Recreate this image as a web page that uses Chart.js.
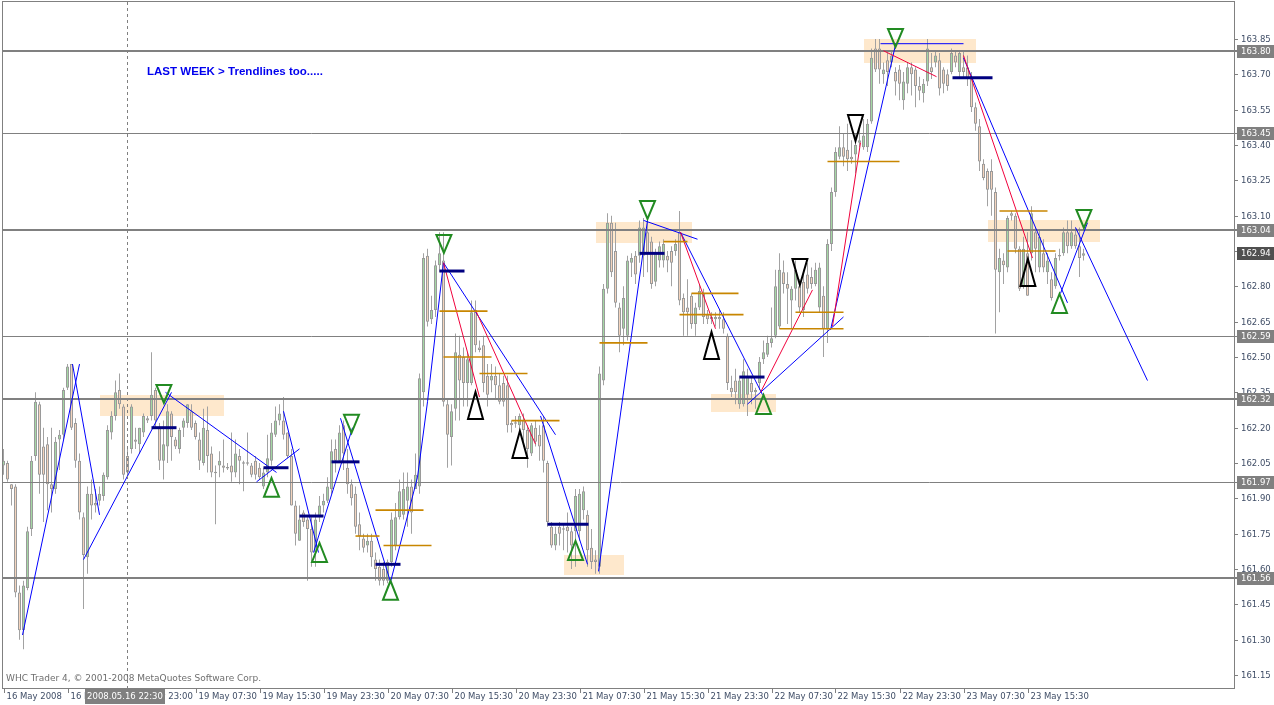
<!DOCTYPE html>
<html><head><meta charset="utf-8">
<script src="https://cdn.jsdelivr.net/npm/chart.js@4.4.1/dist/chart.umd.min.js"></script>
<style>html,body{margin:0;padding:0;background:#fff;overflow:hidden}canvas{display:block}</style>
</head><body>
<canvas id="c" width="1274" height="705"></canvas>
<script>
// ---- DATA (30-minute bars, index 0 = 16 May 2008 07:00) ----
const openP = [
162.04,162.05,161.96,161.95,161.50,161.34,161.52,161.77,162.08,162.30,
162.12,162.13,161.96,161.94,162.15,162.17,162.37,162.47,162.22,162.06,
161.82,161.65,161.92,161.88,161.89,161.91,161.99,162.18,162.25,162.36,
162.29,162.08,162.11,162.15,162.13,162.18,162.24,162.25,162.36,162.20,
162.06,162.12,162.26,162.15,162.11,162.20,162.22,162.27,162.22,162.15,
162.05,162.19,162.09,162.01,162.04,162.04,162.03,162.04,162.01,162.08,
162.05,162.05,162.04,162.06,162.03,161.95,162.01,162.06,162.17,162.23,
162.23,162.18,162.08,161.87,161.72,161.84,161.81,161.77,161.67,161.82,
161.87,161.89,161.94,162.11,162.06,162.21,162.03,161.96,161.92,161.79,
161.73,161.70,161.72,161.64,161.61,161.60,161.55,161.63,161.70,161.82,
161.83,161.89,161.95,161.94,161.95,162.35,162.93,162.66,162.70,162.89,
162.91,162.30,162.16,162.28,162.51,162.50,162.39,162.39,162.70,162.54,
162.55,162.42,162.40,162.42,162.38,162.39,162.38,162.22,162.22,162.21,
162.23,162.19,162.09,162.20,162.17,162.21,162.05,161.78,161.70,161.78,
161.77,161.78,161.76,161.76,161.76,161.85,161.83,161.69,161.64,161.61,
162.40,162.79,163.07,162.95,162.71,162.62,162.59,162.90,162.93,162.93,
162.93,163.03,162.99,162.82,162.91,162.91,162.93,162.95,162.95,163.03,
162.75,162.71,162.76,162.64,162.71,162.77,162.68,162.67,162.66,162.67,
162.66,162.59,162.37,162.40,162.30,162.30,162.34,162.39,162.35,162.39,
162.49,162.51,162.56,162.59,162.63,162.86,162.81,162.74,162.79,162.80,
162.82,162.85,162.84,162.81,162.71,162.76,162.62,162.98,163.20,163.35,
163.39,163.38,163.35,163.36,163.41,163.39,163.39,163.50,163.81,163.81,
163.70,163.76,163.75,163.71,163.72,163.59,163.66,163.73,163.72,163.65,
163.62,163.67,163.73,163.75,163.76,163.72,163.70,163.71,163.78,163.71,
163.73,163.73,163.69,163.56,163.48,163.32,163.29,163.29,163.20,162.86,
162.91,162.88,163.11,163.10,162.96,162.80,162.94,162.94,163.03,162.88,
162.94,162.86,162.83,162.80,162.93,162.94,163.03,162.97,163.02,162.97,
162.93];
const highP = [
162.11,162.06,161.96,161.96,161.53,161.55,161.78,162.08,162.35,162.31,
162.20,162.16,162.20,162.16,162.19,162.37,162.47,162.47,162.24,162.09,
161.84,161.95,161.98,161.94,161.95,162.01,162.21,162.27,162.40,162.43,
162.30,162.11,162.30,162.20,162.20,162.26,162.25,162.52,162.37,162.22,
162.23,162.30,162.27,162.16,162.20,162.24,162.30,162.30,162.23,162.18,
162.28,162.29,162.12,162.04,162.10,162.15,162.05,162.18,162.15,162.11,
162.06,162.18,162.05,162.08,162.05,162.03,162.17,162.22,162.29,162.30,
162.33,162.18,162.11,161.89,161.87,161.85,161.82,161.82,161.84,161.91,
161.92,161.99,162.15,162.15,162.21,162.23,162.11,161.98,161.95,161.84,
161.75,161.75,161.75,161.67,161.64,161.63,161.64,161.84,161.88,161.98,
162.01,162.01,161.98,162.09,162.43,162.94,162.96,162.76,162.91,163.03,
163.03,162.32,162.30,162.60,162.59,162.54,162.52,162.74,162.74,162.57,
162.59,162.47,162.47,162.46,162.43,162.42,162.42,162.23,162.25,162.26,
162.26,162.21,162.22,162.23,162.21,162.25,162.06,161.80,161.78,161.80,
161.79,161.84,161.78,161.94,161.94,161.95,161.85,161.77,161.68,162.46,
162.81,163.11,163.10,163.07,162.73,162.80,162.93,162.94,162.95,163.08,
163.09,163.08,163.01,162.96,162.99,163.00,162.95,162.97,163.00,163.12,
162.77,162.83,162.77,162.73,162.81,162.79,162.70,162.69,162.69,162.70,
162.69,162.60,162.42,162.45,162.42,162.49,162.45,162.42,162.37,162.50,
162.57,162.59,162.71,162.87,162.94,162.91,162.86,162.80,162.91,162.83,
162.87,162.90,162.88,162.90,162.90,162.80,163.00,163.22,163.39,163.48,
163.45,163.49,163.42,163.45,163.48,163.51,163.51,163.81,163.85,163.85,
163.75,163.79,163.80,163.73,163.74,163.71,163.75,163.75,163.73,163.69,
163.68,163.85,163.79,163.80,163.79,163.73,163.72,163.81,163.80,163.80,
163.80,163.78,163.71,163.58,163.51,163.34,163.30,163.34,163.22,162.96,
162.94,163.10,163.12,163.11,162.97,163.01,163.03,163.14,163.05,163.04,
163.00,162.94,162.86,162.94,162.96,163.05,163.08,163.08,163.05,163.05,
162.96];
const lowP = [
162.00,161.97,161.87,161.48,161.30,161.26,161.51,161.74,162.06,161.92,
161.80,161.85,161.84,161.92,162.02,162.15,162.36,162.19,162.03,161.81,
161.43,161.58,161.81,161.84,161.87,161.89,161.98,162.15,162.23,162.28,
161.98,161.99,162.09,162.11,162.09,162.16,162.22,162.23,162.20,162.02,
161.98,162.05,162.06,162.11,162.09,162.16,162.20,162.19,162.15,162.02,
162.04,162.01,161.99,161.79,161.99,162.01,162.02,161.97,161.99,161.96,
161.93,162.04,161.99,161.98,161.98,161.94,161.99,162.04,162.16,162.21,
162.15,162.07,161.87,161.70,161.72,161.78,161.55,161.61,161.61,161.80,
161.84,161.88,161.92,162.01,162.05,162.02,161.92,161.87,161.75,161.68,
161.67,161.67,161.61,161.55,161.53,161.53,161.54,161.61,161.68,161.81,
161.81,161.78,161.75,161.94,161.92,162.29,162.63,162.64,162.67,162.86,
162.29,162.03,162.04,162.23,162.23,162.29,162.29,162.38,162.52,162.52,
162.35,162.29,162.35,162.32,162.30,162.29,162.18,162.18,162.20,162.18,
162.12,162.03,162.08,162.12,162.06,162.01,161.78,161.69,161.68,161.70,
161.68,161.67,161.60,161.61,161.72,161.81,161.61,161.60,161.58,161.58,
162.38,162.77,162.84,162.71,162.52,162.55,162.57,162.84,162.81,162.90,
162.84,162.86,162.79,162.80,162.88,162.88,162.86,162.80,162.93,162.72,
162.59,162.59,162.62,162.59,162.70,162.64,162.64,162.64,162.63,162.62,
162.60,162.36,162.33,162.30,162.28,162.29,162.25,162.30,162.28,162.36,
162.47,162.50,162.54,162.58,162.62,162.77,162.64,162.62,162.74,162.69,
162.67,162.77,162.79,162.80,162.69,162.50,162.56,162.95,163.18,163.34,
163.31,163.29,163.32,163.28,163.39,163.38,163.37,163.49,163.71,163.66,
163.66,163.65,163.73,163.61,163.59,163.55,163.62,163.61,163.56,163.59,
163.58,163.65,163.68,163.73,163.61,163.62,163.63,163.70,163.73,163.69,
163.69,163.65,163.54,163.46,163.29,163.25,163.14,163.10,162.60,162.69,
162.81,162.86,163.08,162.94,162.78,162.79,162.76,162.91,162.86,162.86,
162.86,162.81,162.74,162.79,162.91,162.93,162.94,162.96,162.96,162.84,
162.91];
const closeP = [
162.06,161.98,161.94,161.50,161.34,161.53,161.76,162.06,162.31,162.00,
162.00,161.96,161.94,162.14,162.17,162.36,162.46,162.20,162.06,161.84,
161.66,161.92,161.87,161.87,161.92,162.00,162.19,162.25,162.35,162.30,
162.00,162.01,162.29,162.14,162.20,162.25,162.23,162.34,162.23,162.06,
162.13,162.27,162.16,162.12,162.19,162.23,162.30,162.20,162.16,162.06,
162.20,162.08,162.01,162.01,162.06,162.03,162.03,162.01,162.09,162.06,
162.05,162.05,162.00,162.00,161.99,162.01,162.07,162.18,162.23,162.26,
162.17,162.08,161.87,161.75,161.81,161.80,161.77,161.67,161.81,161.87,
161.89,161.95,162.10,162.06,162.18,162.09,161.96,161.90,161.78,161.74,
161.69,161.72,161.65,161.60,161.55,161.55,161.63,161.81,161.82,161.93,
161.94,161.95,161.84,162.00,162.41,162.92,162.65,162.70,162.89,162.94,
162.31,162.17,162.27,162.52,162.40,162.39,162.49,162.69,162.55,162.53,
162.39,162.34,162.42,162.38,162.31,162.31,162.21,162.21,162.22,162.25,
162.19,162.11,162.21,162.14,162.12,162.06,161.80,161.70,161.75,161.75,
161.77,161.76,161.70,161.91,161.92,161.93,161.68,161.63,161.63,162.43,
162.79,163.07,162.86,162.73,162.59,162.75,162.91,162.92,162.85,163.05,
163.05,162.94,162.81,162.94,162.97,162.98,162.91,162.90,162.98,162.74,
162.69,162.69,162.64,162.71,162.78,162.67,162.66,162.66,162.67,162.66,
162.62,162.39,162.35,162.35,162.40,162.44,162.42,162.35,162.36,162.48,
162.52,162.56,162.58,162.80,162.87,162.81,162.79,162.79,162.87,162.71,
162.70,162.79,162.81,162.87,162.88,162.62,162.98,163.20,163.37,163.39,
163.35,163.34,163.34,163.40,163.42,163.44,163.49,163.77,163.72,163.72,
163.72,163.71,163.78,163.67,163.66,163.67,163.73,163.70,163.65,163.63,
163.66,163.81,163.71,163.78,163.64,163.66,163.65,163.79,163.75,163.79,
163.71,163.68,163.56,163.49,163.33,163.26,163.21,163.21,162.87,162.92,
162.89,163.09,163.10,162.96,162.79,162.96,162.76,163.11,162.96,163.01,
162.88,162.91,162.75,162.92,162.93,163.03,162.97,163.03,162.97,162.92,
162.94];

const xTickBars = [0,16,32,48,64,80,96,112,128,144,160,176,192,208,224,240,256];
const xTickLabels = ['16 May 2008','16 May 15:00','16 May 23:00','19 May 07:30','19 May 15:30','19 May 23:30',
  '20 May 07:30','20 May 15:30','20 May 23:30','21 May 07:30','21 May 15:30','21 May 23:30',
  '22 May 07:30','22 May 15:30','22 May 23:30','23 May 07:30','23 May 15:30'];
const yTickValues = [163.85,163.70,163.55,163.40,163.25,163.10,162.95,162.80,162.65,162.50,162.35,
  162.20,162.05,161.90,161.75,161.60,161.45,161.30,161.15];

const levelValues = [163.80,163.45,163.04,162.59,162.32,161.97,161.56];
const levelThick  = [true,false,true,false,true,false,true];
const currentPrice = 162.94;

// zones: [bar1, bar2, priceLow, priceHigh]
const zones = [[24,55,162.25,162.34],[140,155,161.575,161.66],[148,172,162.985,163.075],
  [177,193,162.265,162.345],[215,243,163.75,163.85],[246,274,162.99,163.08]];
// trend segments: [bar1, price1, bar2, price2]
const blueSegs = [[4.75,161.32,19,162.47],[17.25,162.47,24,161.83],[20,161.64,42,162.35],
  [40.5,162.35,68.25,162.01],[63.25,161.97,74,162.11],[70,162.27,78.75,161.67],
  [77.5,161.67,87.25,162.20],[84.25,162.24,96.75,161.545],[96.75,161.545,103.5,161.99],
  [103.5,161.99,106,162.31],[106,162.31,110,162.90],[110,162.90,138,162.17],
  [134.25,162.25,146,161.62],[148.75,161.59,161,163.08],[160,163.08,173.5,163.00],
  [169.25,163.03,189.75,162.34],[186,162.30,210,162.67],[206.75,162.615,223,163.825],
  [219.25,163.83,240,163.83],[240,163.77,266,162.73],[264.25,162.77,271,163.07],
  [268,163.05,286,162.40]];
const redSegs = [[110,162.90,119,162.33],[118,162.70,133,162.13],[169.25,163.03,178,162.62],
  [189.25,162.35,202.25,162.785],[207.25,162.63,214.25,163.41],[220,163.80,233.25,163.69],
  [240,163.78,257.25,162.92]];
// horizontal marks: [bar1, bar2, price]
const orangeSegs = [[109,121,162.695],[110,122,162.50],[119,131,162.43],[127,139,162.23],
  [93,105,161.85],[88,94,161.74],[95,107,161.70],[149,161,162.56],[165,171,162.99],
  [172,183.75,162.77],[169,185,162.68],[198,210,162.69],[194,210,162.62],[206,224,163.33],
  [249,261,163.12],[251,263,162.95]];
const navySegs = [[37,43.25,162.20],[65,71.25,162.03],[74,80,161.825],[82,89,162.055],
  [93,99.25,161.62],[109,115.25,162.865],[136,146.25,161.79],[159,165.25,162.94],
  [184,190.25,162.415],[237.25,247.25,163.685]];
// arrows: [bar, apex price]
const greenDown = [[40.1,162.305],[110.1,162.942],[87,162.178],[161,163.086],[223,163.816],[270.1,163.048]];
const greenUp   = [[67,161.987],[79,161.711],[96.75,161.55],[143,161.719],[190,162.339],[264,162.768]];
const blackDown = [[199.1,162.806],[213,163.417]];
const blackUp   = [[118,162.352],[129.1,162.186],[177,162.606],[256.1,162.916]];

const cursorBar = 31;
const cursorLabel = '2008.05.16 22:30';
const noteText = 'LAST WEEK > Trendlines too.....';
const copyrightText = 'WHC Trader 4, \u00a9 2001-2008 MetaQuotes Software Corp.';

// ---- STYLE ----
const BULL = '#a4d7a4', BEAR = '#f4d4bd', OUTLINE = '#9a9a9a', WICK = '#a2a2a2';
const BLUE = '#0000ff', RED = '#f0003c', ORANGE = '#c88600', NAVY = '#000080';
const ZONE = '#fee8cc', LEVEL = '#808080', AXIS_TXT = '#3f4d66', FRAME = '#808080';
const AXFONT = '8.5px "DejaVu Sans"';

const N = openP.length;
const wickData = [], bodyData = [], bodyColors = [];
for (let i = 0; i < N; i++) {
  wickData.push({x: i, y: [lowP[i], highP[i]]});
  let lo = Math.min(openP[i], closeP[i]), hi = Math.max(openP[i], closeP[i]);
  if (hi - lo < 0.006) { const m = (hi + lo) / 2; lo = m - 0.003; hi = m + 0.003; }
  bodyData.push({x: i, y: [lo, hi]});
  bodyColors.push(closeP[i] > openP[i] ? BULL : (closeP[i] < openP[i] ? BEAR : OUTLINE));
}

const datasets = [
  {type: 'bar', data: wickData, backgroundColor: WICK, borderWidth: 0, barThickness: 1,
   grouped: false, order: 100, inflateAmount: 0},
  {type: 'bar', data: bodyData, backgroundColor: bodyColors, borderColor: OUTLINE, borderWidth: 1,
   borderSkipped: false, barThickness: 3, grouped: false, order: 99, inflateAmount: 0}
];
function seg(x1, y1, x2, y2, color, width) {
  datasets.push({type: 'line', data: [{x: x1, y: y1}, {x: x2, y: y2}], borderColor: color,
    borderWidth: width, pointRadius: 0, pointHoverRadius: 0, fill: false, tension: 0,
    borderCapStyle: 'butt', order: 1});
}
orangeSegs.forEach(s => seg(s[0], s[2], s[1], s[2], ORANGE, 1.6));
navySegs.forEach(s => seg(s[0], s[2], s[1], s[2], NAVY, 3));
redSegs.forEach(s => seg(s[0], s[1], s[2], s[3], RED, 1));
blueSegs.forEach(s => seg(s[0], s[1], s[2], s[3], BLUE, 1));

function fitFont(ctx, text, weight, family, width) {
  ctx.font = weight + ' 20px ' + family;
  return 20 * width / ctx.measureText(text).width;
}

const mt4 = {
  id: 'mt4',
  beforeDatasetsDraw(chart) {
    const {ctx, scales: {x, y}, chartArea: a} = chart;
    ctx.save();
    ctx.beginPath(); ctx.rect(a.left, a.top, a.right - a.left, a.bottom - a.top); ctx.clip();
    ctx.fillStyle = ZONE;
    zones.forEach(z => {
      const x1 = Math.round(x.getPixelForValue(z[0])), x2 = Math.round(x.getPixelForValue(z[1]));
      const y1 = Math.round(y.getPixelForValue(z[3])), y2 = Math.round(y.getPixelForValue(z[2]));
      ctx.fillRect(x1, y1, x2 - x1, y2 - y1);
    });
    ctx.restore();
  },
  afterDatasetDraw(chart, args) {
    if (args.index !== 1) return;
    const {ctx, scales: {y}, chartArea: a} = chart;
    ctx.save();
    ctx.strokeStyle = LEVEL;
    levelValues.forEach((v, k) => {
      const yy = Math.round(y.getPixelForValue(v));
      ctx.lineWidth = levelThick[k] ? 2 : 1;
      const py = levelThick[k] ? yy : yy + 0.5;
      ctx.beginPath(); ctx.moveTo(a.left, py); ctx.lineTo(1238, py); ctx.stroke();
    });
    ctx.restore();
  },
  afterDatasetsDraw(chart) {
    const {ctx, scales: {x, y}, chartArea: a} = chart;
    ctx.save();
    const cx = Math.floor(x.getPixelForValue(cursorBar)) + 0.5;
    ctx.strokeStyle = '#808080'; ctx.lineWidth = 1; ctx.setLineDash([3, 3]);
    ctx.beginPath(); ctx.moveTo(cx, a.top); ctx.lineTo(cx, a.bottom); ctx.stroke();
    ctx.setLineDash([]);
    ctx.lineWidth = 2; ctx.lineJoin = 'miter';
    function tri(list, color, h, down) {
      ctx.strokeStyle = color;
      list.forEach(t => {
        const px = x.getPixelForValue(t[0]), py = y.getPixelForValue(t[1]);
        const by = down ? py - h : py + h;
        ctx.beginPath(); ctx.moveTo(px - 7.5, by); ctx.lineTo(px + 7.5, by); ctx.lineTo(px, py);
        ctx.closePath(); ctx.stroke();
      });
    }
    tri(greenDown, '#228b22', 18, true);
    tri(greenUp, '#228b22', 19, false);
    tri(blackDown, '#000000', 26, true);
    tri(blackUp, '#000000', 27, false);
    let fs = fitFont(ctx, noteText, 'bold', '"Liberation Sans"', 176);
    ctx.font = 'bold ' + fs.toFixed(2) + 'px "Liberation Sans"';
    ctx.fillStyle = '#0000ee'; ctx.textBaseline = 'middle'; ctx.textAlign = 'left';
    ctx.fillText(noteText, 147, 72);
    fs = fitFont(ctx, copyrightText, '', '"DejaVu Sans"', 255);
    ctx.font = fs.toFixed(2) + 'px "DejaVu Sans"';
    ctx.fillStyle = '#6e6e6e';
    ctx.fillText(copyrightText, 6, 679);
    ctx.restore();
  },
  afterDraw(chart) {
    const {ctx, scales: {x, y}, chartArea: a} = chart;
    ctx.save();
    ctx.strokeStyle = FRAME; ctx.lineWidth = 1;
    ctx.strokeRect(a.left - 0.5, a.top - 0.5, a.right - a.left + 1, a.bottom - a.top + 1);
    ctx.font = AXFONT; ctx.textBaseline = 'middle'; ctx.textAlign = 'left';
    yTickValues.forEach(v => {
      const yy = Math.round(y.getPixelForValue(v)) + 0.5;
      ctx.strokeStyle = FRAME; ctx.beginPath(); ctx.moveTo(a.right, yy); ctx.lineTo(a.right + 4, yy); ctx.stroke();
      ctx.fillStyle = AXIS_TXT; ctx.fillText(v.toFixed(2), a.right + 7, yy);
    });
    function box(v, color) {
      const yy = Math.round(y.getPixelForValue(v));
      ctx.fillStyle = color; ctx.fillRect(1237, yy - 6, 37, 13);
      ctx.fillStyle = '#ffffff'; ctx.fillText(v.toFixed(2), a.right + 7, yy + 0.5);
    }
    levelValues.forEach(v => box(v, '#808080'));
    box(currentPrice, '#505050');
    xTickBars.forEach((b, k) => {
      const xx = Math.round(x.getPixelForValue(b)) + 0.5;
      ctx.strokeStyle = FRAME; ctx.beginPath(); ctx.moveTo(xx, a.bottom); ctx.lineTo(xx, a.bottom + 5); ctx.stroke();
      ctx.fillStyle = AXIS_TXT; ctx.fillText(xTickLabels[k], xx + 2, 697);
    });
    const cx = Math.floor(x.getPixelForValue(cursorBar));
    ctx.fillStyle = '#808080'; ctx.fillRect(cx - 42, 689, 80, 15);
    ctx.fillStyle = '#ffffff'; ctx.textAlign = 'center';
    ctx.fillText(cursorLabel, cx - 2, 697);
    ctx.restore();
  }
};

new Chart(document.getElementById('c'), {
  type: 'bar',
  data: {datasets},
  options: {
    responsive: false, animation: false, devicePixelRatio: 1,
    layout: {padding: {left: 3, top: 2, right: 40, bottom: 17}},
    plugins: {legend: {display: false}, tooltip: {enabled: false}},
    events: [],
    scales: {
      x: {type: 'linear', display: false, offset: false, min: -0.125, max: -0.125 + 1231 / 4, grid: {display: false}},
      y: {type: 'linear', display: false, min: 161.095, max: 164.007, beginAtZero: false, grid: {display: false}}
    }
  },
  plugins: [mt4]
});
</script>
</body></html>
